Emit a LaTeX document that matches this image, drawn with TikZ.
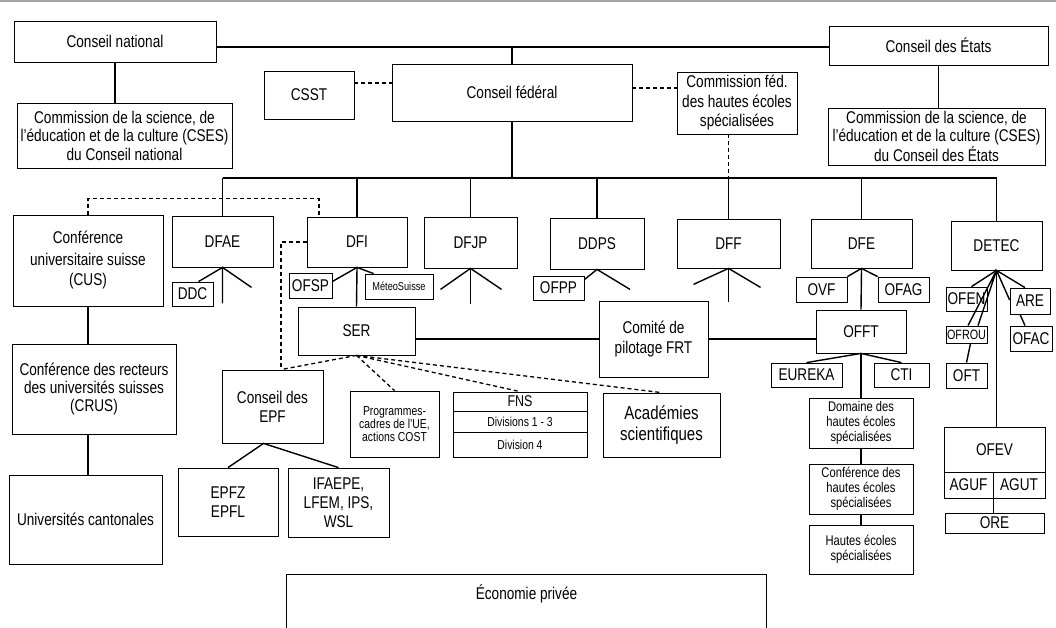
\documentclass[tikz,border=0pt]{standalone}
\usepackage{fontspec}
\setmainfont{Liberation Sans}[FakeStretch=0.8]
\begin{document}
\begin{tikzpicture}[x=1pt, y=-1pt,
	box/.style={draw, line width=0.8pt, align=center, inner sep=1pt, font=\fontsize{17}{18.5}\selectfont},
	sz/.style 2 args={minimum width=#1pt, minimum height=#2pt},
	hestext/.style={font=\fontsize{14}{15}\selectfont},
	tinytext/.style={font=\fontsize{13}{13}\selectfont},
	link/.style={line width=1.4pt},
	dashlink/.style={line width=1.3pt, dash pattern=on 4pt off 3pt}]
				\useasboundingbox (0,0) rectangle (1056,628);
				\draw[gray!70, line width=2pt] (0,1.5) -- (1056,1.5);
				\node [box, sz={202}{41}] (cn) at (115,41.5) {Conseil national};
				\node [box, sz={219}{39}] (ce) at (938.5,45.5) {Conseil des États};
				\node [box, sz={215}{65}] (csesn) at (124.5,135.5) {Commission de la science, de\\l’éducation et de la culture (CSES)\\du Conseil national};
				\node [box, sz={217}{57}, font=\fontsize{17}{18}\selectfont] (csese) at (936.5,136.5) {Commission de la science, de\\l’éducation et de la culture (CSES)\\du Conseil des États};
				\node [box, sz={90}{48}] (csst) at (309,95) {CSST};
				\node [box, sz={240}{57}] (cf) at (512,92.5) {Conseil fédéral};
				\node [box, sz={120}{62}, font=\fontsize{17}{19.5}\selectfont] (cfh) at (737,103) {Commission féd.\\des hautes écoles\\spécialisées};
				\node [box, sz={150}{91}, font=\fontsize{17}{21}\selectfont] (cus) at (88,260.5) {Conférence\\universitaire suisse\\(CUS)};
				\node [box, sz={101}{51}] (dfae) at (222.5,241.5) {DFAE};
				\node [box, sz={100}{50}] (dfi) at (357,242) {DFI};
				\node [box, sz={93}{51}] (dfjp) at (470.5,242.5) {DFJP};
				\node [box, sz={94}{51}] (ddps) at (597,243.5) {DDPS};
				\node [box, sz={103}{49}] (dff) at (728.5,243.5) {DFF};
				\node [box, sz={101}{49}] (dfe) at (861.5,243.5) {DFE};
				\node [box, sz={91}{49}] (detec) at (996.5,245.5) {DETEC};
				\node [box, sz={41}{24}] (ddc) at (192.5,294) {DDC};
				\node [box, sz={43}{25}] (ofsp) at (310.5,285.5) {OFSP};
				\node [box, sz={68}{25}, font=\fontsize{11.5}{12}\selectfont] (met) at (399,286.5) {MéteoSuisse};
				\node [box, sz={51}{24}] (ofpp) at (558.5,288) {OFPP};
				\node [box, sz={51}{25}] (ovf) at (821.5,289.5) {OVF};
				\node [box, sz={51}{25}] (ofag) at (903.5,289.5) {OFAG};
				\node [box, sz={117}{48}] (ser) at (356.5,331) {SER};
				\node [box, sz={109}{76}, font=\fontsize{17}{20}\selectfont] (com) at (653.5,339) {Comité de\\pilotage FRT};
				\node [box, sz={90}{43}] (offt) at (861,331.5) {OFFT};
				\node [box, sz={71}{24}] (eureka) at (806.5,375) {EUREKA};
				\node [box, sz={55}{24}] (cti) at (901.5,375) {CTI};
				\node [box, sz={104}{50}, hestext] (dom) at (861,423) {Domaine des\\hautes écoles\\spécialisées};
				\node [box, sz={104}{50}, hestext] (chs) at (861,489) {Conférence des\\hautes écoles\\spécialisées};
				\node [box, sz={104}{49}, hestext] (hes) at (861,549.5) {Hautes écoles\\spécialisées};
				\node [box, sz={41}{24}] (ofen) at (966.5,299) {OFEN};
				\node [box, sz={41}{17}, font=\fontsize{13.5}{14}\selectfont] (ofrou) at (966.5,334.5) {OFROU};
				\node [box, sz={41}{25}] (oft) at (966.5,375.5) {OFT};
				\node [box, sz={40}{26}] (are) at (1030,301) {ARE};
				\node [box, sz={42}{25}] (ofac) at (1031,338.5) {OFAC};
				\node [box, sz={101}{45}] (ofev) at (994.5,449.5) {OFEV};
				\node [box, sz={49}{26}] (aguf) at (968.5,485) {AGUF};
				\node [box, sz={52}{26}] (agut) at (1019,485) {AGUT};
				\node [box, sz={99}{20}] (ore) at (994.5,523) {ORE};
				\node [box, sz={164}{90}, font=\fontsize{17}{18}\selectfont] (crus) at (94,389) {Conférence des recteurs\\des universités suisses\\(CRUS)};
				\node [box, sz={153}{89}] (uni) at (85.5,519.5) {Universités cantonales};
				\node [box, sz={101}{73}, font=\fontsize{17}{19}\selectfont] (epf) at (272.5,406.5) {Conseil des\\EPF};
				\node [box, sz={100}{68}, font=\fontsize{17}{19}\selectfont] (epfz) at (228,502) {EPFZ\\EPFL};
				\node [box, sz={101}{69}, font=\fontsize{17}{19}\selectfont] (ifa) at (338.5,502.5) {IFAEPE,\\LFEM, IPS,\\WSL};
				\node [box, sz={89}{66}, tinytext] (prog) at (394.5,424) {Programmes-\\cadres de l’UE,\\actions COST};
				\node [box, sz={134}{19}, font=\fontsize{15.6}{16}\selectfont] (fns) at (520,401.5) {FNS};
				\node [box, sz={134}{21}, tinytext] (div13) at (520,421.5) {Divisions 1 - 3};
				\node [box, sz={134}{25}, tinytext] (div4) at (520,444.5) {Division 4};
				\node [box, sz={117}{64}, font=\fontsize{18.75}{21}\selectfont] (acad) at (661.5,425) {Académies\\scientifiques};
				\node [sz={479}{53}] (eco) at (526.5,601.5) {};
				\node [box, draw=none] (ecotxt) at (526.5,594) {Économie privée};
				\draw[line width=0.8pt] (eco.south west) |- (eco.north east) -- (eco.south east);
				\coordinate (parl) at (512,47);
				\draw[link] (cn.east |- parl) -- (ce.west |- parl);
				\draw[link] (parl) -- (cf.north);
				\draw[link] (cn.south) -- (csesn.north -| cn.south);
				\draw[link] (ce.south) -- (csese.north -| ce.south);
				\draw[dashlink] ([yshift=12pt]csst.east) -- ([yshift=12pt]csst.east -| cf.west);
				\draw[dashlink] ([yshift=4.5pt]cf.east) -- ([yshift=4.5pt]cf.east -| cfh.west);
				\coordinate (bus) at (512,178);
				\draw[link] (cf.south) -- (bus);
				\draw[link] (dfae.north |- bus) -- (detec.north |- bus);
				\foreach \d in {dfae,dfi,dfjp,ddps,dff,dfe,detec}
					\draw[link] (\d.north |- bus) -- (\d.north);
				\draw[dashlink] (dff.north |- cfh.south) -- (dff.north |- bus);
				\draw[dashlink] (cus.north) -- ++(0,-16) -| ([xshift=-38pt]dfi.north);
				\draw[link] ([xshift=6pt]ddc.north) -- (dfae.south) -- ++(0,36);
				\draw[link] (dfae.south) -- ++(29,20);
				\draw[link] ([yshift=4pt]ofsp.east) -- (dfi.south) -- ([xshift=9pt]met.north west);
				\draw[link] (dfi.south) -- (ser.north);
				\draw[link] (dfjp.south) ++(-30,21) -- (dfjp.south) -- ++(31,21);
				\draw[link] (dfjp.south) -- ++(0,36);
				\draw[link] ([yshift=-4pt]ofpp.north east) -- (ddps.south) -- ++(33,20);
				\draw[link] (dff.south) ++(-35,16) -- (dff.south) -- ++(32,19);
				\draw[link] (dff.south) -- ++(0,34);
				\draw[link] (ovf.north east) -- (dfe.south) -- (ofag.north west);
				\draw[link] (dfe.south) -- (offt.north);
				\draw[link] (eureka.north) -- (offt.south) -- (cti.north);
				\draw[link] (offt.south) -- (dom.north);
				\draw[link] (dom.south) -- (chs.north);
				\draw[link] (chs.south) -- (hes.north);
				\draw[link] ([xshift=5pt]ofen.north) -- (detec.south);
				\draw[link] ([xshift=1.5pt]ofrou.north) -- (detec.south) -- ([xshift=11.5pt]ofrou.north);
				\draw[link] ([xshift=4pt]ofrou.south) -- (oft.north);
				\draw[link] ([xshift=-5pt]are.north) -- (detec.south) -- ([yshift=1pt]are.west);
				\draw[link] ([xshift=-10pt]are.south) -- ([xshift=-6pt]ofac.north);
				\draw[link] (detec.south) -- (detec.south |- ofev.north);
				\draw[link] (aguf.south east) -- (aguf.south east |- ore.north);
				\draw[link] (cus.south) -- (cus.south |- crus.north);
				\draw[link] (cus.south |- crus.south) -- (cus.south |- uni.north);
				\draw[dashlink] (dfi.west) -| ([xshift=8.5pt]epf.north);
				\draw[dashlink] (ser.south) -- ([xshift=8.5pt]epf.north);
				\draw[dashlink] (ser.south) -- (prog.north);
				\draw[dashlink] (ser.south) -- (fns.north);
				\draw[dashlink] (ser.south) -- (acad.north);
				\draw[link] (ser.east |- com.west) -- (com.west);
				\draw[link] (com.east) -- (com.east -| offt.west);
				\draw[link] (epfz.north) -- ([xshift=-9pt]epf.south) -- (ifa.north);
			\end{tikzpicture}
\end{document}
